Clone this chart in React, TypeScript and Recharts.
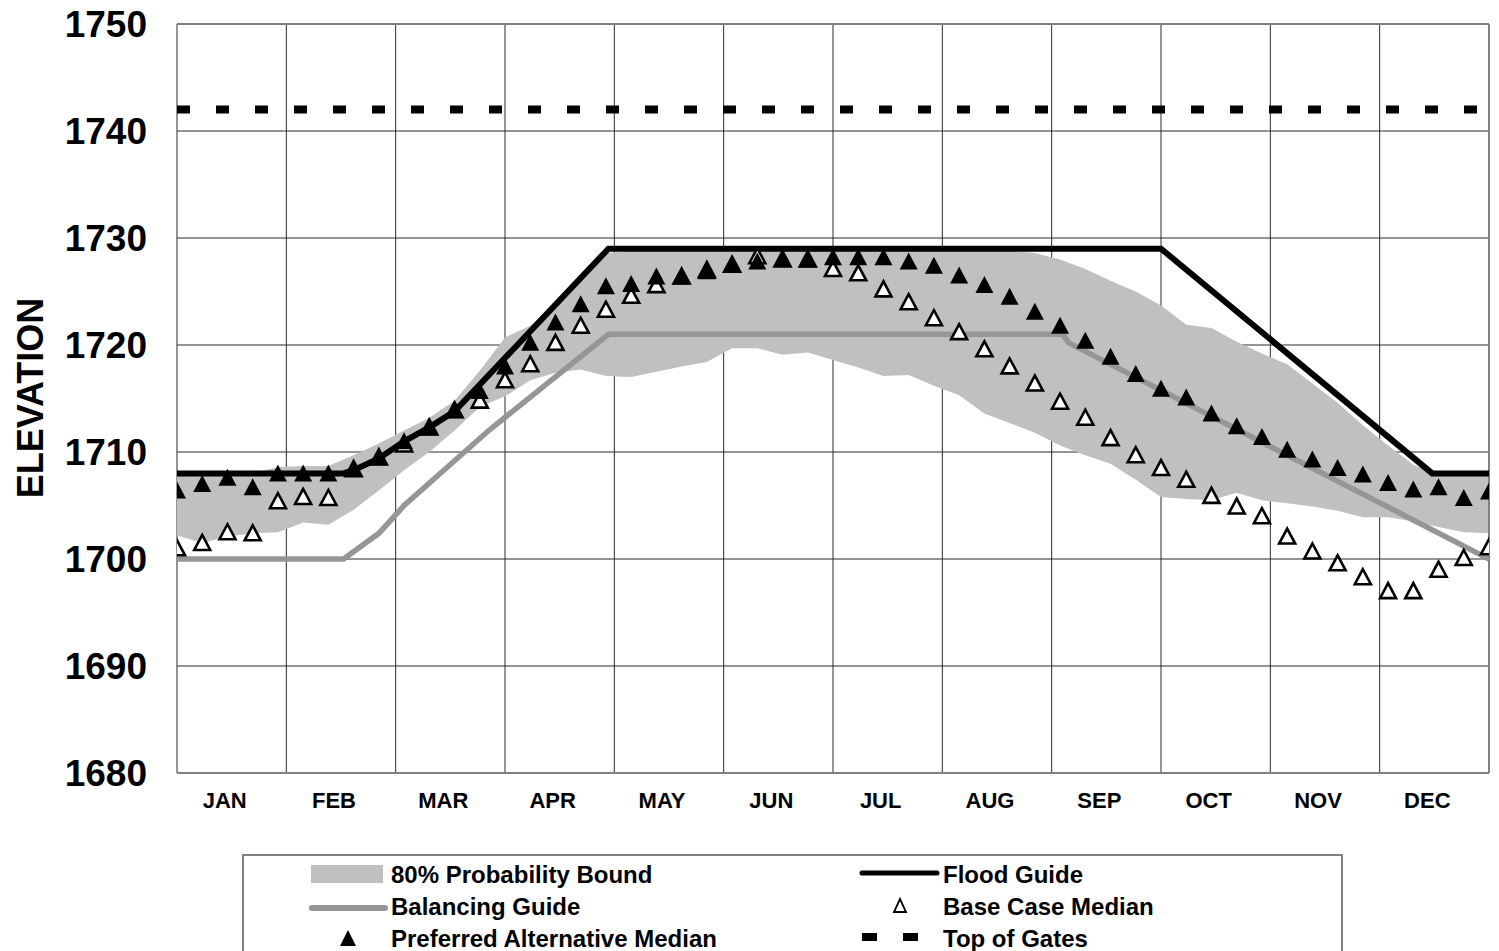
import React from 'react';
import {
  ComposedChart,
  Area,
  Line,
  XAxis,
  YAxis,
  CartesianGrid,
  ReferenceLine,
} from 'recharts';

const months = ['JAN', 'FEB', 'MAR', 'APR', 'MAY', 'JUN', 'JUL', 'AUG', 'SEP', 'OCT', 'NOV', 'DEC'];
const yTicks = [1680, 1690, 1700, 1710, 1720, 1730, 1740, 1750];

// weekly values, week 0 .. 52
const bandLow = [
  1702.2, 1701.5, 1702.1, 1702.4, 1702.5, 1703.4, 1703.2, 1704.6, 1706.4, 1708.3,
  1710.0, 1712.0, 1714.2, 1715.2, 1716.7, 1717.4, 1717.7, 1717.1, 1717.0, 1717.5,
  1718.0, 1718.4, 1719.7, 1719.7, 1719.1, 1719.3, 1718.6, 1717.9, 1717.1, 1717.2,
  1716.2, 1715.3, 1713.6, 1712.7, 1711.8, 1710.6, 1709.7, 1708.9, 1707.4, 1705.8,
  1705.6, 1705.5, 1706.2, 1705.5, 1705.2, 1704.9, 1704.5, 1703.9, 1703.9, 1703.5,
  1703.0, 1702.5, 1702.4,
];
const bandHigh = [
  1708.0, 1708.0, 1708.0, 1708.0, 1708.6, 1708.7, 1708.7, 1709.7, 1710.8, 1712.0,
  1713.2, 1714.8, 1717.6, 1720.7, 1721.8, 1723.8, 1726.2, 1728.6, 1728.8, 1728.8,
  1728.8, 1728.8, 1728.8, 1728.8, 1728.8, 1728.8, 1728.8, 1728.8, 1728.8, 1728.8,
  1728.8, 1728.8, 1728.8, 1728.8, 1728.6, 1728.0, 1727.1, 1726.0, 1725.0, 1723.7,
  1721.9, 1721.6, 1720.3, 1719.2, 1718.2, 1716.4, 1714.6, 1712.5, 1710.6, 1708.8,
  1707.8, 1707.8, 1707.8,
];
const preferred = [
  1706.4, 1707.0, 1707.6, 1706.7, 1708.0, 1708.0, 1708.0, 1708.5, 1709.5, 1711.0,
  1712.3, 1713.9, 1715.7, 1718.0, 1720.2, 1722.1, 1723.8, 1725.5, 1725.7, 1726.4,
  1726.4, 1726.9, 1727.5, 1727.8, 1728.1, 1728.0, 1728.2, 1728.2, 1728.2, 1727.8,
  1727.4, 1726.5, 1725.6, 1724.5, 1723.1, 1721.8, 1720.4, 1718.9, 1717.3, 1715.9,
  1715.1, 1713.6, 1712.4, 1711.4, 1710.2, 1709.3, 1708.5, 1707.9, 1707.1, 1706.5,
  1706.7, 1705.7, 1706.3,
];
const baseCase = [
  1701.0, 1701.5, 1702.5, 1702.4, 1705.4, 1705.8, 1705.7, 1708.4, 1709.5, 1710.7,
  1712.3, 1713.9, 1714.8, 1716.7, 1718.2, 1720.2, 1721.8, 1723.3, 1724.6, 1725.6,
  1726.4, 1727.0, 1727.5, 1728.3, 1728.0, 1728.0, 1727.1, 1726.7, 1725.2, 1724.0,
  1722.5, 1721.2, 1719.6, 1718.0, 1716.4, 1714.7, 1713.2, 1711.3, 1709.7, 1708.5,
  1707.4, 1705.9, 1704.9, 1704.0, 1702.1, 1700.7, 1699.6, 1698.3, 1697.0, 1697.0,
  1699.0, 1700.1, 1701.1,
];

// guide curves (week, elevation)
const floodWeeks = [0, 6.6, 7, 8, 9, 10, 11, 17.1, 39, 49.75, 52];
const floodElev = [1708, 1708, 1708.3, 1709.4, 1711.0, 1712.3, 1713.8, 1729, 1729, 1708, 1708];
const balWeeks = [0, 6.6, 8, 9, 12.4, 17.1, 35.1, 35.35, 52];
const balElev = [1700, 1700, 1702.4, 1705.0, 1712.1, 1721, 1721, 1720.2, 1700];
const gatesWeeks = [0, 52];
const gatesElev = [1742, 1742];

const weekly = bandLow.map((lo, i) => ({
  x: i,
  band: [lo, bandHigh[i]],
  pref: preferred[i],
  base: baseCase[i],
}));
const flood = floodWeeks.map((x, i) => ({ x, y: floodElev[i] }));
const balancing = balWeeks.map((x, i) => ({ x, y: balElev[i] }));
const gates = gatesWeeks.map((x, i) => ({ x, y: gatesElev[i] }));

const monthEdges = months.map((_, i) => (i * 52) / 12).concat([52]);
const monthMids = months.map((_, i) => ((i + 0.5) * 52) / 12);

const FONT = "'Liberation Sans', Arial, Helvetica, sans-serif";
const BAND = '#c0c0c0';
const BAL = '#969696';

const FilledTri = (props: any) => {
  const { cx, cy, index } = props;
  if (cx == null || cy == null) return <g key={`f${index}`} />;
  return (
    <polygon
      key={`f${index}`}
      points={`${cx},${cy - 9} ${cx - 9},${cy + 8} ${cx + 9},${cy + 8}`}
      fill="#000"
    />
  );
};

const OpenTri = (props: any) => {
  const { cx, cy, index } = props;
  if (cx == null || cy == null) return <g key={`o${index}`} />;
  return (
    <polygon
      key={`o${index}`}
      points={`${cx},${cy - 8} ${cx - 8},${cy + 7} ${cx + 8},${cy + 7}`}
      fill="#fff"
      stroke="#000"
      strokeWidth={2.6}
      strokeLinejoin="miter"
    />
  );
};

const YTick = ({ x, y, payload }: any) => (
  <text x={x} y={y} dy={13} textAnchor="end" fontFamily={FONT} fontWeight="bold" fontSize={37} fill="#000">
    {payload.value}
  </text>
);

const MonthTick = ({ x, y, index }: any) => (
  <text x={x - 7} y={y} dy={33} textAnchor="middle" fontFamily={FONT} fontWeight="bold" fontSize={22} fill="#000">
    {months[index] ?? ''}
  </text>
);

const legendRows = [
  { label: '80% Probability Bound', kind: 'band', col: 0, row: 0 },
  { label: 'Flood Guide', kind: 'flood', col: 1, row: 0 },
  { label: 'Balancing Guide', kind: 'bal', col: 0, row: 1 },
  { label: 'Base Case Median', kind: 'open', col: 1, row: 1 },
  { label: 'Preferred Alternative Median', kind: 'filled', col: 0, row: 2 },
  { label: 'Top of Gates', kind: 'gates', col: 1, row: 2 },
];

const LegendBox = () => {
  const left = 242;
  const top = 854;
  const colText = [391 - left, 943 - left];
  const rowY = [874 - top, 906 - top, 938 - top];
  const swatchX = [348 - left, 900 - left];
  const swatch = (kind: string, cx: number, cy: number) => {
    switch (kind) {
      case 'band':
        return <rect x={cx - 37} y={cy - 9} width={72} height={18} fill={BAND} />;
      case 'flood':
        return <line x1={cx - 38} x2={cx + 37} y1={cy - 1} y2={cy - 1} stroke="#000" strokeWidth={5} strokeLinecap="round" />;
      case 'bal':
        return <line x1={cx - 36} x2={cx + 37} y1={cy + 2} y2={cy + 2} stroke={BAL} strokeWidth={6} strokeLinecap="round" />;
      case 'open':
        return (
          <polygon
            points={`${cx},${cy - 7} ${cx - 6},${cy + 6} ${cx + 6},${cy + 6}`}
            fill="#fff"
            stroke="#000"
            strokeWidth={1.8}
          />
        );
      case 'filled':
        return <polygon points={`${cx},${cy - 8} ${cx - 8},${cy + 8} ${cx + 8},${cy + 8}`} fill="#000" />;
      case 'gates':
        return (
          <g>
            <rect x={cx - 38} y={cy - 5} width={15} height={8} fill="#000" />
            <rect x={cx + 3} y={cy - 5} width={15} height={8} fill="#000" />
          </g>
        );
      default:
        return null;
    }
  };
  return (
    <svg width={1101} height={120} style={{ position: 'absolute', left, top, overflow: 'visible' }}>
      <rect x={1} y={1} width={1099} height={130} fill="#fff" stroke="#808080" strokeWidth={2} />
      {legendRows.map((r) => (
        <g key={r.label}>
          {swatch(r.kind, swatchX[r.col], rowY[r.row])}
          <text
            x={colText[r.col]}
            y={rowY[r.row] + 8.6}
            fontFamily={FONT}
            fontWeight="bold"
            fontSize={24}
            fill="#000"
          >
            {r.label}
          </text>
        </g>
      ))}
    </svg>
  );
};

export default function App() {
  return (
    <div
      style={{
        position: 'absolute',
        left: 0,
        top: 0,
        width: 1499,
        height: 951,
        overflow: 'hidden',
        background: '#fff',
      }}
    >
      <ComposedChart
        width={1499}
        height={951}
        data={weekly}
        margin={{ top: 24, right: 10, bottom: 0, left: 0 }}
      >
        <XAxis
          xAxisId="m"
          type="number"
          dataKey="x"
          domain={[0, 52]}
          ticks={monthMids}
          interval={0}
          height={178}
          tickLine={false}
          tickSize={0}
          axisLine={{ stroke: '#808080', strokeWidth: 2 }}
          tick={<MonthTick />}
          allowDataOverflow
        />
        <XAxis
          xAxisId="grid"
          type="number"
          dataKey="x"
          domain={[0, 52]}
          ticks={monthEdges}
          interval={0}
          tickFormatter={() => ''}
          height={0}
          hide
        />
        <YAxis
          type="number"
          domain={[1680, 1750]}
          ticks={yTicks}
          interval={0}
          width={177}
          axisLine={false}
          tickLine={false}
          tickSize={0}
          tickMargin={30}
          tick={<YTick />}
          allowDataOverflow
          label={{
            content: () => (
              <text
                x={30}
                y={398}
                transform="rotate(-90, 30, 398)"
                textAnchor="middle"
                dominantBaseline="central"
                fontFamily={FONT}
                fontWeight="bold"
                fontSize={36}
                fill="#000"
              >
                ELEVATION
              </text>
            ),
          }}
        />
        <CartesianGrid xAxisId="grid" stroke="#2b2b2b" strokeWidth={1} />
        <Area
          xAxisId="m"
          dataKey="band"
          stroke="none"
          fill={BAND}
          fillOpacity={1}
          isAnimationActive={false}
          activeDot={false}
        />
        <ReferenceLine xAxisId="m" y={1750} stroke="#808080" strokeWidth={2} />
        <ReferenceLine xAxisId="m" x={52} stroke="#808080" strokeWidth={2} />
        <Line
          xAxisId="m"
          data={balancing}
          dataKey="y"
          stroke={BAL}
          strokeWidth={5.5}
          dot={false}
          activeDot={false}
          type="linear"
          isAnimationActive={false}
        />
        <Line
          xAxisId="m"
          data={flood}
          dataKey="y"
          stroke="#000"
          strokeWidth={6}
          dot={false}
          activeDot={false}
          type="linear"
          isAnimationActive={false}
        />
        <Line
          xAxisId="m"
          data={gates}
          dataKey="y"
          stroke="#000"
          strokeWidth={8}
          strokeDasharray="13 26"
          dot={false}
          activeDot={false}
          type="linear"
          isAnimationActive={false}
        />
        <Line
          xAxisId="m"
          dataKey="base"
          stroke="none"
          dot={OpenTri}
          activeDot={false}
          isAnimationActive={false}
        />
        <Line
          xAxisId="m"
          dataKey="pref"
          stroke="none"
          dot={FilledTri}
          activeDot={false}
          isAnimationActive={false}
        />
      </ComposedChart>
      <LegendBox />
    </div>
  );
}
